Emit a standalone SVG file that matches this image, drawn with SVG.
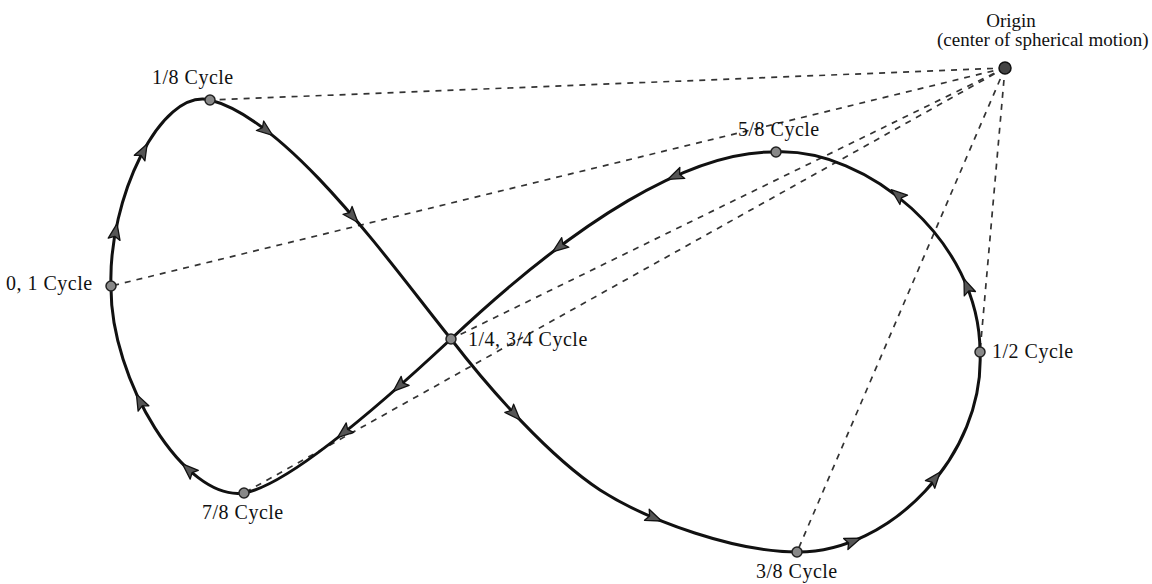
<svg xmlns="http://www.w3.org/2000/svg" xmlns:xlink="http://www.w3.org/1999/xlink" width="1152" height="584" viewBox="0 0 1152 584">
<style>
.lbl{font-family:"Liberation Serif","Times New Roman",serif;font-size:19px;fill:#111}
.cyc{font-size:20px;letter-spacing:0.5px}
.dash{stroke:#333;stroke-width:1.7;stroke-dasharray:6 6;fill:none}
.curve{stroke:#111;stroke-width:3;fill:none;stroke-linejoin:round}
.node{fill:#888;stroke:#222;stroke-width:1.5}
.ah{fill:#555;stroke:#111;stroke-width:1.3;stroke-linejoin:round}
</style>
<defs>
<path id="ah" class="ah" d="M9,0 L-7,-6 L-4,0 L-7,6 Z"/>
</defs>
<rect width="1152" height="584" fill="#fff"/>
<g id="connectors">
<g id="radii">
<line class="dash" x1="1005" y1="68" x2="210" y2="100"/>
<line class="dash" x1="1005" y1="68" x2="111" y2="286"/>
<line class="dash" x1="1005" y1="68" x2="451" y2="339"/>
<line class="dash" x1="1005" y1="68" x2="244" y2="493"/>
<line class="dash" x1="1005" y1="68" x2="797" y2="552"/>
<line class="dash" x1="1005" y1="68" x2="980" y2="352"/>
</g>
<path id="figure-eight" class="curve" d="M111,286 C108,200 160,88 210,100 C290,120 395,270 451,339 C491,391 550,457 600,490 C650,522 737,552 797,552 C890,553 985,455 980,352 C980,240 866,148 776,152 C690,150 575,222 451,339 C391,395 290,485 244,493 C185,502 110,380 111,286 Z"/>
<g id="arrows">
<use xlink:href="#ah" href="#ah" transform="translate(115.4,232.4) rotate(-79.5)"/>
<use xlink:href="#ah" href="#ah" transform="translate(142.9,151.9) rotate(-61.8)"/>
<use xlink:href="#ah" href="#ah" transform="translate(265.6,130) rotate(37.5)"/>
<use xlink:href="#ah" href="#ah" transform="translate(352.1,215.7) rotate(49.4)"/>
<use xlink:href="#ah" href="#ah" transform="translate(514,413.4) rotate(47)"/>
<use xlink:href="#ah" href="#ah" transform="translate(653.3,517.5) rotate(23)"/>
<use xlink:href="#ah" href="#ah" transform="translate(852.3,541.5) rotate(-21)"/>
<use xlink:href="#ah" href="#ah" transform="translate(934.5,479) rotate(-51)"/>
<use xlink:href="#ah" href="#ah" transform="translate(967.3,287.2) rotate(-111.5)"/>
<use xlink:href="#ah" href="#ah" transform="translate(898.3,195.4) rotate(-140.9)"/>
<use xlink:href="#ah" href="#ah" transform="translate(675.9,175.8) rotate(156)"/>
<use xlink:href="#ah" href="#ah" transform="translate(559.7,246.6) rotate(143.2)"/>
<use xlink:href="#ah" href="#ah" transform="translate(399.9,385.5) rotate(138.6)"/>
<use xlink:href="#ah" href="#ah" transform="translate(344.5,432) rotate(141.3)"/>
<use xlink:href="#ah" href="#ah" transform="translate(189.1,470) rotate(-137.5)"/>
<use xlink:href="#ah" href="#ah" transform="translate(140.4,402.2) rotate(-116.3)"/>
</g>
</g>
<g id="origin">
<circle cx="1005" cy="68" r="6" fill="#444" stroke="#111" stroke-width="1.5"/>
<text class="lbl" x="1011" y="27" text-anchor="middle">Origin</text>
<text class="lbl" x="937" y="46">(center of spherical motion)</text>
</g>
<g id="n-1-8"><circle class="node" cx="210" cy="100" r="5"/><text class="lbl cyc" x="152" y="84">1/8 Cycle</text></g>
<g id="n-0-1"><circle class="node" cx="111" cy="286" r="5"/><text class="lbl cyc" x="6" y="290">0, 1 Cycle</text></g>
<g id="n-1-4"><circle class="node" cx="451" cy="339" r="5"/><text class="lbl cyc" x="468" y="346">1/4, 3/4 Cycle</text></g>
<g id="n-7-8"><circle class="node" cx="244" cy="493" r="5"/><text class="lbl cyc" x="202" y="519">7/8 Cycle</text></g>
<g id="n-3-8"><circle class="node" cx="797" cy="552" r="5"/><text class="lbl cyc" x="756" y="578">3/8 Cycle</text></g>
<g id="n-1-2"><circle class="node" cx="980" cy="352" r="5"/><text class="lbl cyc" x="992" y="358">1/2 Cycle</text></g>
<g id="n-5-8"><circle class="node" cx="776" cy="152" r="5"/><text class="lbl cyc" x="738" y="136">5/8 Cycle</text></g>
</svg>
